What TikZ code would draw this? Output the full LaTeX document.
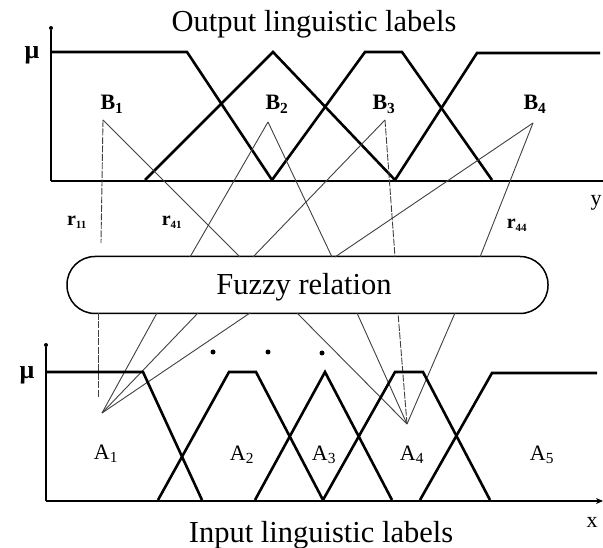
\documentclass[tikz,border=0pt]{standalone}
\usepackage{fontspec}
\setmainfont{Liberation Serif}
\usetikzlibrary{arrows.meta}
\begin{document}
\begin{tikzpicture}[x=1pt,y=-1pt,
  mf/.style={line width=2.6pt, line join=miter},
  axis/.style={line width=1.6pt},
  link/.style={line width=0.9pt, black!75},
  linkd/.style={link, dash pattern=on 7pt off 1.5pt},
  title/.style={font=\fontsize{30.5}{31}\selectfont, inner sep=0pt, anchor=base},
  setlab/.style={font=\fontsize{22}{22}\selectfont, inner sep=0pt, anchor=base},
  mulab/.style={font=\fontsize{26}{26}\selectfont\bfseries, inner sep=0pt},
  rlab/.style={font=\fontsize{20}{20}\selectfont\bfseries, inner sep=0pt},
  dotmark/.style={circle, fill, inner sep=0pt, minimum size=5pt},
]
\useasboundingbox (0,0) rectangle (603,548);

% ---------------- output membership functions ----------------
\node[title] (outtitle) at (314,32) {Output linguistic labels};
\draw[axis] (51,181) -- (51,30);
\node[dotmark, minimum size=4pt] (ytop) at (51,28) {};
\draw[axis] (51,181) -- (603,181);
\node[mulab] (muy) at (32,55) {μ};
\node[setlab] (ylab) at (596,206) {y};

\draw[mf] (51,52) -- (187,52) -- (272,180);
\draw[mf] (145,180) -- (273,52) -- (395,180);
\draw[mf] (272,180) -- (365,52) -- (402,52) -- (492,180);
\draw[mf] (395,180) -- (477,53) -- (600,53);

\node[setlab, font=\fontsize{22}{22}\selectfont\bfseries] (B1) at (112,110) {B\textsubscript{1}};
\node[setlab, font=\fontsize{22}{22}\selectfont\bfseries] (B2) at (277,110) {B\textsubscript{2}};
\node[setlab, font=\fontsize{22}{22}\selectfont\bfseries] (B3) at (384,110) {B\textsubscript{3}};
\node[setlab, font=\fontsize{22}{22}\selectfont\bfseries] (B4) at (535,110) {B\textsubscript{4}};

\coordinate (b1) at (103,120);
\coordinate (b2) at (268,122);
\coordinate (b3) at (385,120);
\coordinate (b4) at (533,123);

% ---------------- fuzzy relation ----------------
\node[draw, line width=1.5pt, rounded corners=28pt, minimum width=481pt,
      minimum height=57pt, inner sep=0pt] (rel) at (307.5,285) {};
\node[title] (reltext) at (304,295) {Fuzzy relation};

% contact points on the relation block
\coordinate (r11up) at (101,243);
\coordinate (t190) at (190,257);
\coordinate (t240) at (240,257);
\coordinate (t253) at (253,257);
\coordinate (t332) at (332,257);
\coordinate (t335) at (335,257);
\coordinate (t395) at (395,257);
\coordinate (t480) at (480,257);

\coordinate (u98) at (98,313);
\coordinate (r11dn) at (98,398);
\coordinate (u157) at (157,313);
\coordinate (u198) at (198,313);
\coordinate (u250) at (250,313);
\coordinate (u297) at (297,313);
\coordinate (u357) at (357,313);
\coordinate (u398) at (398,313);
\coordinate (u455) at (455,313);

% output-side links
\draw[linkd] (b1) -- (r11up);
\draw[link] (b1) -- (t240);
\draw[link] (b2) -- (t190);
\draw[link] (b2) -- (t332);
\draw[link] (b3) -- (t253);
\draw[linkd] (b3) -- (t395);
\draw[link] (b4) -- (t335);
\draw[link] (b4) -- (t480);

\node[rlab] (r11) at (77,222) {r\textsubscript{\fontsize{11}{11}\selectfont 11}};
\node[rlab] (r41) at (172,222) {r\textsubscript{\fontsize{11}{11}\selectfont 41}};
\node[rlab] (r44) at (517,225) {r\textsubscript{\fontsize{11}{11}\selectfont 44}};

% ---------------- input membership functions ----------------
\coordinate (a1) at (102,413);
\coordinate (a4) at (407,424);

\draw[linkd] (u98) -- (r11dn);
\draw[link] (a1) -- (u157);
\draw[link] (a1) -- (u198);
\draw[link] (a1) -- (u250);
\draw[link] (a4) -- (u297);
\draw[link] (a4) -- (u357);
\draw[linkd] (a4) -- (u398);
\draw[link] (a4) -- (u455);

\node[dotmark] (d1) at (213,352) {};
\node[dotmark] (d2) at (268,352) {};
\node[dotmark] (d3) at (322,353) {};

\draw[axis] (46,501) -- (46,347);
\node[dotmark, minimum size=4pt] (xtop) at (46,345) {};
\draw[axis, -{Stealth[length=7pt,width=6pt]}] (46,501) -- (603,501);
\node[mulab] (mux) at (27,375) {μ};
\node[setlab] (xlab) at (592,527) {x};

\draw[mf] (46,372) -- (143,372) -- (202,500);
\draw[mf] (158,500) -- (229,372) -- (256,372) -- (323,500);
\draw[mf] (255,500) -- (325,372) -- (392,500);
\draw[mf] (323,500) -- (395,372) -- (423,372) -- (490,500);
\draw[mf] (420,500) -- (492,373) -- (597,373);

\node[setlab] (A1) at (106,459) {A\textsubscript{1}};
\node[setlab] (A2) at (242,460) {A\textsubscript{2}};
\node[setlab] (A3) at (324,460) {A\textsubscript{3}};
\node[setlab] (A4) at (412,460) {A\textsubscript{4}};
\node[setlab] (A5) at (542,460) {A\textsubscript{5}};

\node[title] (intitle) at (321,542) {Input linguistic labels};
\end{tikzpicture}
\end{document}
